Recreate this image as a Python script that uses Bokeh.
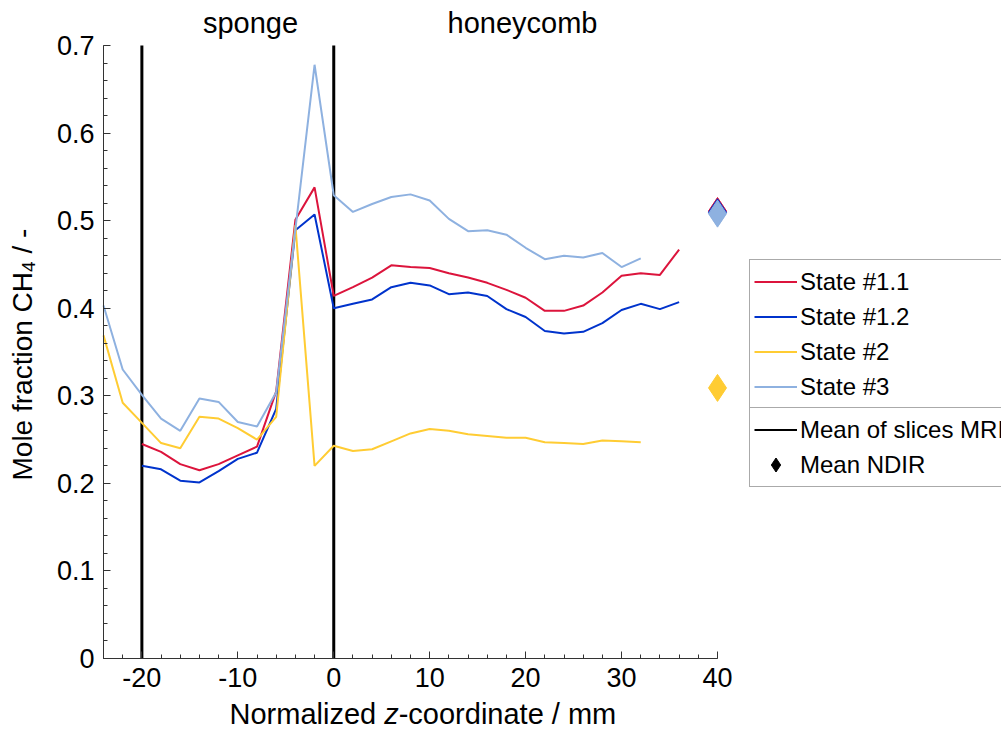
import math
from bokeh.plotting import figure
from bokeh.models import (Range1d, Legend, LegendItem, Label, SingleIntervalTicker, LinearAxis,
                          CustomJSTickFormatter, ColumnDataSource)
from bokeh.embed import file_html
from bokeh.resources import INLINE

# ---------------- data ----------------
z_s11 = [-20, -18, -16, -14, -12, -10, -8, -6, -4, -2, 0, 2, 4, 6, 8, 10, 12, 14, 16, 18,
         20, 22, 24, 26, 28, 30, 32, 34, 36]
ch4_s11 = [0.245, 0.236, 0.222, 0.215, 0.222, 0.232, 0.242, 0.305, 0.501, 0.538, 0.414,
           0.424, 0.435, 0.449, 0.447, 0.446, 0.440, 0.435, 0.429, 0.421, 0.412, 0.397,
           0.397, 0.403, 0.418, 0.437, 0.440, 0.438, 0.467]

z_s12 = [-20, -18, -16, -14, -12, -10, -8, -6, -4, -2, 0, 2, 4, 6, 8, 10, 12, 14, 16, 18,
         20, 22, 24, 26, 28, 30, 32, 34, 36]
ch4_s12 = [0.220, 0.216, 0.203, 0.201, 0.214, 0.228, 0.235, 0.285, 0.489, 0.507, 0.400,
           0.405, 0.410, 0.424, 0.429, 0.426, 0.416, 0.418, 0.414, 0.399, 0.390, 0.374,
           0.371, 0.373, 0.383, 0.398, 0.405, 0.399, 0.407]

z_s2 = [-24, -22, -20, -18, -16, -14, -12, -10, -8, -6, -4, -2, 0, 2, 4, 6, 8, 10, 12, 14,
        16, 18, 20, 22, 24, 26, 28, 30, 32]
ch4_s2 = [0.369, 0.292, 0.269, 0.246, 0.240, 0.276, 0.274, 0.263, 0.250, 0.276, 0.495,
          0.220, 0.243, 0.237, 0.239, 0.248, 0.257, 0.262, 0.260, 0.256, 0.254, 0.252,
          0.252, 0.247, 0.246, 0.245, 0.249, 0.248, 0.247]

z_s3 = [-24, -22, -20, -18, -16, -14, -12, -10, -8, -6, -4, -2, 0, 2, 4, 6, 8, 10, 12, 14,
        16, 18, 20, 22, 24, 26, 28, 30, 32]
ch4_s3 = [0.403, 0.330, 0.301, 0.274, 0.260, 0.297, 0.293, 0.270, 0.265, 0.304, 0.490,
          0.678, 0.529, 0.510, 0.519, 0.527, 0.530, 0.523, 0.502, 0.488, 0.489, 0.484,
          0.469, 0.456, 0.460, 0.458, 0.463, 0.447, 0.457]

series_names = ["State #1.1", "State #1.2", "State #2", "State #3"]
series_colors = ["#DC143C", "#0033CC", "#FFCC33", "#8EB1E0"]

z_ndir = [40, 40, 40, 40]
ch4_ndir = [0.511, 0.5095, 0.309, 0.508]

boundaries = [-20, 0]
region_names = ["sponge", "honeycomb"]

x_ticks_interval = 10
y_ticks_interval = 0.1

# ---------------- layout geometry (pixels) ----------------
FONT = "Liberation Sans"
W, H = 1001, 729
AX_L, AX_R, AX_T, AX_B = 103, 717, 45, 658        # where the axes box sits on the page
XMIN, XMAX, YMIN, YMAX = -24, 40, 0, 0.7
PX_X = (AX_R - AX_L) / (XMAX - XMIN)
PX_Y = (AX_B - AX_T) / (YMAX - YMIN)

def dx(sx):
    return XMIN + (sx - AX_L) / PX_X

def dy(sy):
    return YMIN + (AX_B - sy) / PX_Y

p = figure(width=W, height=H, output_backend="svg", toolbar_location=None,
           x_range=Range1d(dx(0), dx(W)), y_range=Range1d(dy(H), dy(0)),
           x_axis_type=None, y_axis_type=None, min_border=0)
p.outline_line_color = None
p.background_fill_color = "white"
p.border_fill_color = "white"

xaxis = LinearAxis(fixed_location=YMIN, bounds=(XMIN, XMAX + 1e-3),
                   ticker=SingleIntervalTicker(interval=x_ticks_interval, num_minor_ticks=5),
                   formatter=CustomJSTickFormatter(code="return tick.toFixed(0);"))
yaxis = LinearAxis(fixed_location=XMIN, bounds=(YMIN, YMAX + 1e-4),
                   ticker=SingleIntervalTicker(interval=y_ticks_interval, num_minor_ticks=5),
                   formatter=CustomJSTickFormatter(
                       code="return Math.abs(tick) < 1e-9 ? '0' : tick.toFixed(1);"))
for ax in (xaxis, yaxis):
    ax.major_tick_in = 7
    ax.major_tick_out = 0
    ax.minor_tick_in = 4
    ax.minor_tick_out = 0
    ax.axis_line_color = "#333333"
    ax.major_tick_line_color = "#333333"
    ax.minor_tick_line_color = "#333333"
    ax.major_label_text_font = FONT
    ax.major_label_text_font_size = "27px"
    ax.major_label_text_color = "black"
    ax.major_label_standoff = 9
p.add_layout(xaxis, "below")
p.add_layout(yaxis, "left")

# boundary lines
p.segment(x0=boundaries, y0=[YMIN] * 2, x1=boundaries, y1=[YMAX] * 2,
          line_color="black", line_width=3)

# series
rs = []
for zz, vv, c in [(z_s11, ch4_s11, series_colors[0]), (z_s12, ch4_s12, series_colors[1]),
                  (z_s2, ch4_s2, series_colors[2]), (z_s3, ch4_s3, series_colors[3])]:
    rs.append(p.line(zz, vv, line_color=c, line_width=2))

# NDIR means
src = ColumnDataSource(dict(x=z_ndir, y=ch4_ndir, c=series_colors))
p.scatter("x", "y", source=src, marker="diamond", size=27, fill_color="c", line_color="c")

# legend-only renderers (kept off the visible range)
off_x = [dx(-500), dx(-490)]
off_y = [dy(-500), dy(-500)]
r_mri = p.line(off_x, off_y, line_color="black", line_width=2)
r_ndir = p.scatter(off_x[:1], off_y[:1], marker="diamond", size=22,
                   fill_color="black", line_color="black")

common = dict(padding=4, spacing=0, margin=0, glyph_width=43, glyph_height=35,
              label_height=35, label_width=230, label_standoff=3,
              label_text_font=FONT, label_text_font_size="24px", label_text_color="black",
              border_line_color="#555555", border_line_width=1,
              background_fill_color="white", background_fill_alpha=1.0)
leg1 = Legend(items=[LegendItem(label=n, renderers=[r]) for n, r in zip(series_names, rs)],
              location=(749, H - 409), **common)
leg2 = Legend(items=[LegendItem(label="Mean of slices MRI", renderers=[r_mri]),
                     LegendItem(label="Mean NDIR", renderers=[r_ndir])],
              location=(749, H - 487), **common)
p.add_layout(leg1)
p.add_layout(leg2)

TXT = dict(text_font=FONT, text_color="black", text_baseline="alphabetic")

# region labels
for name, sx in zip(region_names, [250, 522]):
    p.add_layout(Label(x=dx(sx), y=dy(22), text=name, text_align="center",
                       text_font_size="29px", **TXT))

# x axis label (with italic z)
xs, xb = 229, 713
p.add_layout(Label(x=dx(xs), y=dy(xb), text="Normalized", text_font_size="29px",
                   text_align="left", **TXT))
p.add_layout(Label(x=dx(xs + 154.7), y=dy(xb), text="z", text_font_style="italic",
                   text_font_size="29px", text_align="left", **TXT))
p.add_layout(Label(x=dx(xs + 169.2), y=dy(xb), text="-coordinate / mm",
                   text_font_size="29px", text_align="left", **TXT))

# y axis label (rotated, with subscript 4)
ys, yb = 480, 22
p.add_layout(Label(x=dx(yb), y=dy(ys), text="Mole fraction CH", angle=math.pi / 2,
                   text_font_size="28px", text_align="left", **TXT))
p.add_layout(Label(x=dx(yb + 6), y=dy(ys - 208.5), text="4", angle=math.pi / 2,
                   text_font_size="19px", text_align="left", **TXT))
p.add_layout(Label(x=dx(yb), y=dy(ys - 208.5 - 10.6 - 7.8), text="/ -", angle=math.pi / 2,
                   text_font_size="28px", text_align="left", **TXT))

open("out.html", "w").write(file_html(p, INLINE))
